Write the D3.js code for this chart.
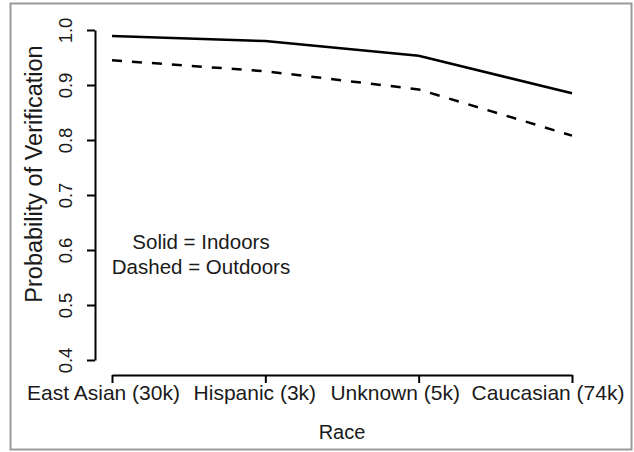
<!DOCTYPE html>
<html>
<head>
<meta charset="utf-8">
<script src="https://cdn.jsdelivr.net/npm/d3@7"></script>
<style>
  html, body { margin: 0; padding: 0; background: #fff; }
  svg { display: block; }
  text { font-family: "Liberation Sans", Arial, Helvetica, sans-serif; fill: #1a1a1a; }
</style>
</head>
<body>
<svg id="chart" width="634" height="452"></svg>
<script>
const categories = ["East Asian (30k)", "Hispanic (3k)", "Unknown (5k)", "Caucasian (74k)"];
const indoors = [0.989, 0.980, 0.953, 0.885];
const outdoors = [0.945, 0.925, 0.892, 0.808];
const yTicks = [0.4, 0.5, 0.6, 0.7, 0.8, 0.9, 1.0];
const legendLines = ["Solid = Indoors", "Dashed = Outdoors"];
const xTitle = "Race";
const yTitle = "Probability of Verification";

// label nudges (layout only), so labels sit as in the reference
const labelShift = [-9, -11, -24, -24.5];

const svg = d3.select("#chart");

// frame
svg.append("rect")
  .attr("x", 10.5).attr("y", 3.5).attr("width", 621).attr("height", 446)
  .attr("fill", "#fff").attr("stroke", "#9a9a9a").attr("stroke-width", 2);

const x = d3.scalePoint().domain(categories).range([112, 572]);
const y = d3.scaleLinear().domain([0.4, 1.0]).range([360, 30]);

// y axis
const yAxis = d3.axisLeft(y).tickValues(yTicks).tickFormat(d3.format(".1f")).tickSizeInner(8).tickSizeOuter(0);
const gy = svg.append("g").attr("transform", "translate(95,0)").call(yAxis);
gy.select(".domain").attr("stroke", "#000").attr("stroke-width", 2);
gy.selectAll(".tick line").attr("stroke", "#000").attr("stroke-width", 2);
gy.selectAll(".tick text")
  .attr("x", null).attr("dy", null)
  .attr("transform", "translate(-23,0) rotate(-90)")
  .attr("text-anchor", "middle")
  .style("font-size", "18.5px")
  .style("font-family", "'Liberation Sans', Arial, sans-serif")
  .attr("fill", "#1a1a1a");

// x axis
const xAxis = d3.axisBottom(x).tickSizeInner(8).tickSizeOuter(0);
const gx = svg.append("g").attr("transform", "translate(0,375)").call(xAxis);
gx.select(".domain").attr("stroke", "#000").attr("stroke-width", 2);
gx.selectAll(".tick line").attr("stroke", "#000").attr("stroke-width", 2);
gx.selectAll(".tick text")
  .attr("y", 25).attr("dy", null)
  .attr("x", (d, i) => labelShift[i])
  .style("font-size", "21px")
  .style("font-family", "'Liberation Sans', Arial, sans-serif")
  .attr("fill", "#1a1a1a");

// lines
const line = d3.line().x((d, i) => x(categories[i])).y(d => y(d));
svg.append("path").datum(indoors)
  .attr("d", line).attr("fill", "none").attr("stroke", "#000").attr("stroke-width", 2.5);
svg.append("path").datum(outdoors)
  .attr("d", line).attr("fill", "none").attr("stroke", "#000").attr("stroke-width", 2.5)
  .attr("stroke-dasharray", "10,10");

// titles
svg.append("text").attr("x", 342).attr("y", 439).attr("text-anchor", "middle")
  .style("font-size", "20px").text(xTitle);
svg.append("text").attr("transform", "translate(42,174) rotate(-90)").attr("text-anchor", "middle")
  .style("font-size", "23.5px").text(yTitle);

// legend text
svg.selectAll(".leg").data(legendLines).enter().append("text")
  .attr("class", "leg")
  .attr("x", 201).attr("y", (d, i) => 249 + i * 25)
  .attr("text-anchor", "middle")
  .style("font-size", "20.5px")
  .text(d => d);
</script>
</body>
</html>
